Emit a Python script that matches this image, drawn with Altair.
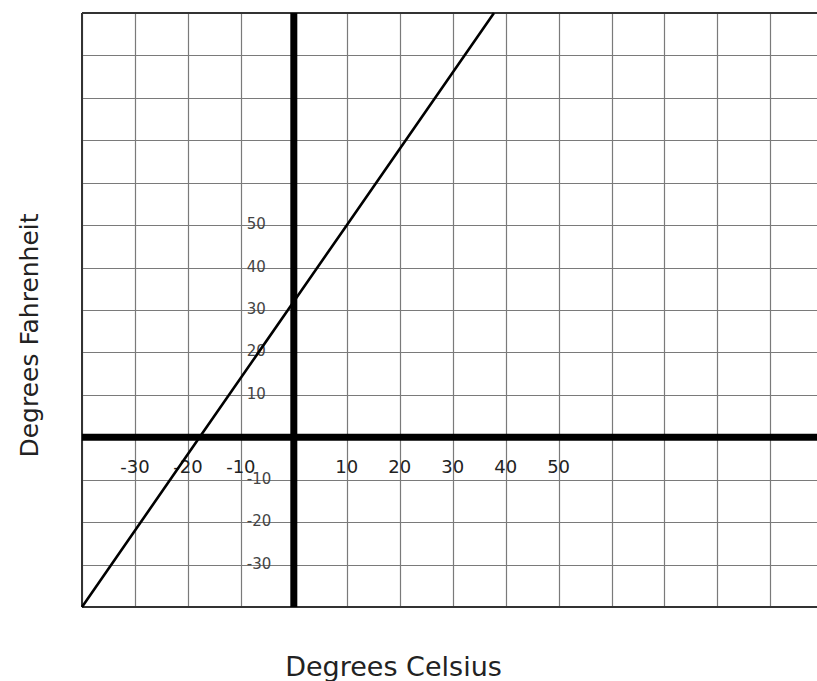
import altair as alt
import pandas as pd

# Conversion line, read at a few points: Celsius -> Fahrenheit
celsius = [-40, -17.8, 0, 10, 37.8]
fahrenheit = [-40, 0, 32, 50, 100]

# Grid positions
x_grid = [-40, -30, -20, -10, 0, 10, 20, 30, 40, 50, 60, 70, 80, 90]
y_grid = [-40, -30, -20, -10, 0, 10, 20, 30, 40, 50, 60, 70, 80, 90, 100]

# Labels written along the two zero axes
x_labels = [-30, -20, -10, 10, 20, 30, 40, 50]
y_labels = [50, 40, 30, 20, 10, -10, -20, -30]

X_DOMAIN = [-40, 98.8]
Y_DOMAIN = [-40, 100]
FONT = "DejaVu Sans"

xs = alt.Scale(domain=X_DOMAIN, nice=False, zero=False)
ys = alt.Scale(domain=Y_DOMAIN, nice=False, zero=False)

line_df = pd.DataFrame({"c": celsius, "f": fahrenheit})
xlab_df = pd.DataFrame({"c": x_labels, "f": [0] * len(x_labels),
                        "t": [str(v) for v in x_labels]})
ylab_df = pd.DataFrame({"c": [0] * len(y_labels), "f": y_labels,
                        "t": [str(v) for v in y_labels]})

# Grid layer carries the axes (grid only) and the axis titles
grid = alt.Chart(line_df).mark_point(opacity=0).encode(
    x=alt.X("c:Q", scale=xs, axis=alt.Axis(
        values=x_grid, grid=True, gridColor="#7a7a7a", gridWidth=1.2,
        domain=False, ticks=False, labels=False,
        title="Degrees Celsius", titleFont=FONT, titleFontSize=27,
        titleFontWeight="normal", titleColor="#222222",
        titleX=311, titleY=68, titleAlign="center",
        titleBaseline="alphabetic")),
    y=alt.Y("f:Q", scale=ys, axis=alt.Axis(
        values=y_grid, grid=True, gridColor="#7a7a7a", gridWidth=1.2,
        domain=False, ticks=False, labels=False,
        title="Degrees Fahrenheit", titleFont=FONT, titleFontSize=25,
        titleFontWeight="normal", titleColor="#222222",
        titleX=-45, titleY=322, titleAlign="center", titleAngle=-90,
        titleBaseline="alphabetic")),
)

# Outer frame: left, top and bottom edges
border_v = alt.Chart(pd.DataFrame({"c": [X_DOMAIN[0]]})).mark_rule(
    color="#333333", strokeWidth=2).encode(x=alt.X("c:Q", scale=xs))
border_h = alt.Chart(pd.DataFrame({"f": Y_DOMAIN})).mark_rule(
    color="#333333", strokeWidth=2).encode(y=alt.Y("f:Q", scale=ys))

# Heavy zero axes
zero_v = alt.Chart(pd.DataFrame({"c": [0]})).mark_rule(
    color="black", strokeWidth=7).encode(x=alt.X("c:Q", scale=xs))
zero_h = alt.Chart(pd.DataFrame({"f": [0]})).mark_rule(
    color="black", strokeWidth=7).encode(y=alt.Y("f:Q", scale=ys))

conv = alt.Chart(line_df).mark_line(color="black", strokeWidth=2.6).encode(
    x=alt.X("c:Q", scale=xs), y=alt.Y("f:Q", scale=ys))

xtext = alt.Chart(xlab_df).mark_text(
    font=FONT, fontSize=18, color="#222222", align="center",
    baseline="middle", dy=31).encode(
    x=alt.X("c:Q", scale=xs), y=alt.Y("f:Q", scale=ys), text="t:N")

ytext = alt.Chart(ylab_df).mark_text(
    font=FONT, fontSize=15, color="#444444", align="left",
    baseline="middle", dx=-47, dy=-1).encode(
    x=alt.X("c:Q", scale=xs), y=alt.Y("f:Q", scale=ys), text="t:N")

chart = alt.layer(
    grid, border_v, border_h, zero_v, zero_h, xtext, ytext, conv
).properties(
    width=735, height=594,
    autosize=alt.AutoSizeParams(type="none"),
    padding={"left": 82, "top": 13, "right": 0, "bottom": 74},
).configure_view(stroke=None).configure(background="white")

chart.save("out.html", embed_options={"renderer": "svg", "actions": False})
